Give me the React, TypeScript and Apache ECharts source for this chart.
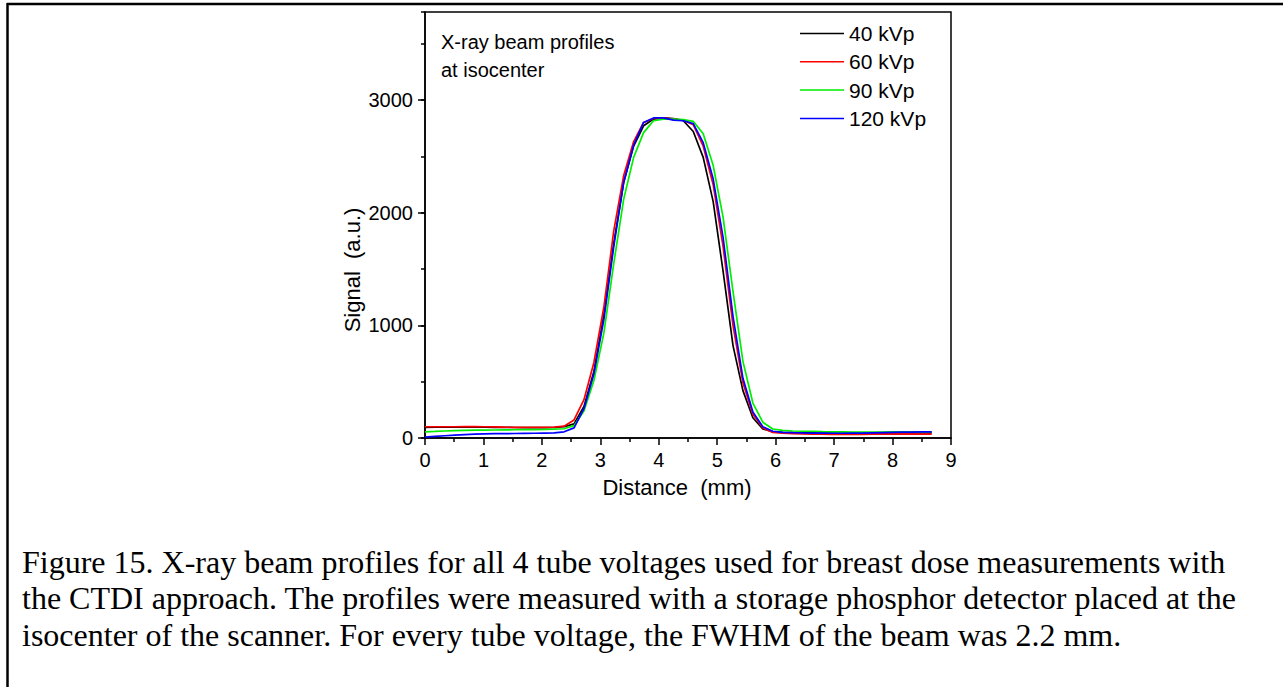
import React, { useEffect, useRef } from "react";
import * as echarts from "echarts";

const distances = [0, 0.17, 0.34, 0.51, 0.68, 0.85, 1.02, 1.19, 1.36, 1.53, 1.7, 1.87, 2.04, 2.21, 2.38, 2.55, 2.72, 2.89, 3.06, 3.23, 3.4, 3.57, 3.74, 3.91, 4.08, 4.25, 4.42, 4.59, 4.76, 4.93, 5.1, 5.27, 5.44, 5.61, 5.78, 5.95, 6.12, 6.29, 6.46, 6.63, 6.8, 6.97, 7.14, 7.31, 7.48, 7.65, 7.82, 7.99, 8.16, 8.33, 8.5, 8.67];

const kvp40 = [95, 96, 97, 97, 98, 97, 96, 95, 94, 93, 92, 92, 92, 93, 100, 125, 280, 590, 1090, 1730, 2270, 2590, 2770, 2830, 2840, 2835, 2815, 2720, 2490, 2100, 1480, 820, 420, 180, 80, 55, 50, 48, 46, 45, 44, 43, 42, 42, 42, 43, 44, 45, 46, 46, 46, 46];
const kvp60 = [100, 100, 100, 100, 101, 101, 100, 98, 96, 95, 95, 95, 95, 96, 105, 160, 340, 670, 1160, 1840, 2330, 2630, 2800, 2835, 2840, 2830, 2820, 2780, 2590, 2250, 1700, 1000, 490, 210, 90, 50, 42, 38, 36, 35, 34, 33, 33, 33, 33, 34, 35, 35, 35, 35, 35, 35];
const kvp90 = [55, 58, 62, 65, 67, 69, 70, 71, 72, 73, 74, 75, 76, 78, 82, 110, 240, 510, 930, 1550, 2120, 2490, 2710, 2815, 2830, 2830, 2825, 2810, 2700, 2420, 1960, 1300, 680, 310, 140, 80, 68, 62, 60, 58, 56, 55, 54, 53, 53, 53, 53, 54, 54, 55, 55, 55];
const kvp120 = [8, 14, 20, 26, 30, 34, 36, 38, 39, 40, 41, 42, 44, 46, 55, 90, 260, 570, 1050, 1700, 2270, 2600, 2800, 2840, 2840, 2820, 2815, 2790, 2620, 2300, 1780, 1080, 530, 230, 100, 60, 50, 47, 45, 44, 43, 42, 42, 43, 44, 46, 48, 50, 52, 53, 54, 54];

const seriesNames = ["40 kVp", "60 kVp", "90 kVp", "120 kVp"];
const seriesColors = ["#000000", "#ff0000", "#00ee00", "#0000ff"];
const seriesValues = [kvp40, kvp60, kvp90, kvp120];

const xTicks = { min: 0, max: 9, interval: 1 };
const yTicks = { min: 0, max: 3780, interval: 1000 };

const annotationLines = ["X-ray beam profiles", "at isocenter"];
const captionLines = [
  "Figure 15. X-ray beam profiles for all 4 tube voltages used for breast dose measurements with",
  "the CTDI approach. The profiles were measured with a storage phosphor detector placed at the",
  "isocenter of the scanner. For every tube voltage, the FWHM of the beam was 2.2 mm.",
];
const xAxisTitle = "Distance\u00a0 (mm)";
const yAxisTitle = "Signal\u00a0 (a.u.)";

const SANS = '"Liberation Sans", Arial, sans-serif';
const SERIF = '"Liberation Serif", "Times New Roman", serif';

export default function App() {
  const ref = useRef<HTMLDivElement>(null);
  useEffect(() => {
    if (!ref.current) return;
    const chart = echarts.init(ref.current, null, { renderer: "svg" });
    const series = seriesValues.map((vals, i) => ({
      type: "line",
      name: seriesNames[i],
      data: distances.map((d, j) => [d, vals[j]]),
      showSymbol: false,
      symbol: "none",
      lineStyle: { color: seriesColors[i], width: 1.7 },
      itemStyle: { color: seriesColors[i] },
      xAxisIndex: 0,
      yAxisIndex: 0,
    }));
    const option: any = {
      animation: false,
      backgroundColor: "#ffffff",
      textStyle: { fontFamily: SANS },
      grid: {
        left: 425,
        right: 332,
        top: 12,
        bottom: 249,
        show: true,
        borderColor: "#000",
        borderWidth: 1.5,
        backgroundColor: "transparent",
      },
      legend: {
        orient: "vertical",
        left: 795,
        top: 18,
        icon: "rect",
        itemWidth: 44,
        itemHeight: 1.5,
        itemGap: 7.3,
        selectedMode: false,
        textStyle: { fontFamily: SANS, fontSize: 21, color: "#000" },
        data: seriesNames,
      },
      xAxis: {
        type: "value",
        min: xTicks.min,
        max: xTicks.max,
        interval: xTicks.interval,
        axisLine: { show: true, lineStyle: { color: "#000", width: 1.5 } },
        axisTick: { show: true, inside: false, length: 7, lineStyle: { color: "#000", width: 1.5 } },
        minorTick: { show: true, splitNumber: 2, length: 4, lineStyle: { color: "#000", width: 1.5 } },
        axisLabel: { fontFamily: SANS, fontSize: 20, color: "#000", margin: 12 },
        splitLine: { show: false },
      },
      yAxis: [
        {
          type: "value",
          min: yTicks.min,
          max: yTicks.max,
          interval: yTicks.interval,
          axisLine: { show: true, lineStyle: { color: "#000", width: 1.5 } },
          axisTick: { show: true, inside: false, length: 7, lineStyle: { color: "#000", width: 1.5 } },
          axisLabel: {
            fontFamily: SANS,
            fontSize: 20,
            color: "#000",
            margin: 12,
            showMaxLabel: false,
            formatter: (v: number) => String(v),
          },
          splitLine: { show: false },
        },
        {
          type: "value",
          position: "left",
          min: yTicks.min,
          max: yTicks.max,
          interval: yTicks.interval / 2,
          axisLine: { show: false },
          axisTick: { show: true, inside: false, length: 4, lineStyle: { color: "#000", width: 1.5 } },
          axisLabel: { show: false },
          splitLine: { show: false },
        },
      ],
      series,
      graphic: [
        { type: "line", shape: { x1: 7, y1: 4, x2: 1283, y2: 4 }, style: { stroke: "#000", lineWidth: 2.5 } },
        { type: "line", shape: { x1: 7.5, y1: 3, x2: 7.5, y2: 687 }, style: { stroke: "#000", lineWidth: 2.5 } },
        ...annotationLines.map((t, i) => ({
          type: "text",
          x: 441,
          y: 42 + i * 28,
          style: { text: t, font: `20px ${SANS}`, fill: "#000", verticalAlign: "middle", align: "left" },
        })),
        {
          type: "text",
          x: 677,
          y: 487,
          style: { text: xAxisTitle, font: `22px ${SANS}`, fill: "#000", verticalAlign: "middle", align: "center" },
        },
        {
          type: "text",
          x: 352,
          y: 270,
          rotation: Math.PI / 2,
          style: { text: yAxisTitle, font: `22px ${SANS}`, fill: "#000", verticalAlign: "middle", align: "center" },
        },
        ...captionLines.map((t, i) => ({
          type: "text",
          x: 22,
          y: 561.5 + i * 36.6,
          style: { text: t, font: `32px ${SERIF}`, fill: "#000", verticalAlign: "middle", align: "left" },
        })),
      ],
    };
    chart.setOption(option);
    return () => chart.dispose();
  }, []);
  return (
    <div
      ref={ref}
      style={{ position: "absolute", left: 0, top: 0, width: 1283, height: 687, background: "#fff" }}
    />
  );
}
